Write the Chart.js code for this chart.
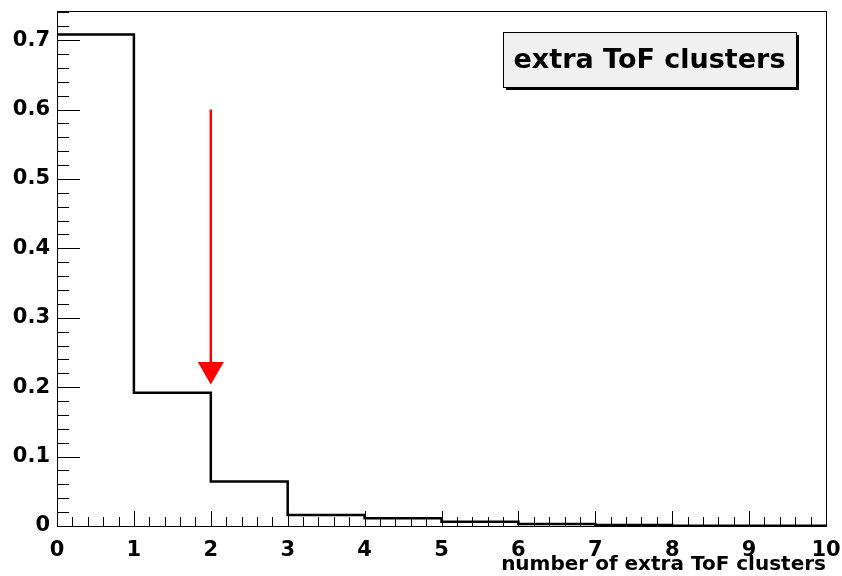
<!DOCTYPE html>
<html>
<head>
<meta charset="utf-8">
<script src="https://cdn.jsdelivr.net/npm/chart.js@4/dist/chart.umd.min.js"></script>
<style>
html,body{margin:0;padding:0;background:#fff;}
#wrap{width:842px;height:576px;position:relative;}
</style>
</head>
<body>
<div id="wrap"><canvas id="c" width="842" height="576"></canvas></div>
<script>
// ---- data ----
const binEdges = [0,1,2,3,4,5,6,7,8,9,10];
const binValues = [0.708, 0.192, 0.064, 0.016, 0.011, 0.006, 0.003, 0.0015, 0.0004, 0.0002];
const xTickLabels = ['0','1','2','3','4','5','6','7','8','9','10'];
const yTickLabels = ['0','0.1','0.2','0.3','0.4','0.5','0.6','0.7'];
const legendText = 'extra ToF clusters';
const xAxisTitle = 'number of extra ToF clusters';
const cutArrow = {x: 2, yFrom: 0.6, yTo: 0.204};
const yMax = 0.742;

// histogram: one point at each bin's left edge, plus closing point at right edge
const points = binValues.map((v,i)=>({x: binEdges[i], y: v}));
points.push({x: binEdges[binEdges.length-1], y: binValues[binValues.length-1]});

const FONT = "'DejaVu Sans', sans-serif";

const decor = {
  id: 'decor',
  afterDatasetsDraw(chart){
    const ctx = chart.ctx, a = chart.chartArea;
    const xs = chart.scales.x, ys = chart.scales.y;
    ctx.save();
    // frame
    ctx.strokeStyle = '#000'; ctx.lineWidth = 1;
    ctx.strokeRect(Math.round(a.left)+0.5, Math.round(a.top)+0.5, Math.round(a.right-a.left), Math.round(a.bottom-a.top));
    // y ticks
    ctx.beginPath();
    for (let k=0;k<=Math.floor(yMax/0.02+1e-6);k++){
      const v = k*0.02;
      const major = (k%5===0);
      const py = Math.round(ys.getPixelForValue(v))+0.5;
      ctx.moveTo(a.left, py); ctx.lineTo(a.left + (major?23:12), py);
    }
    // x ticks
    for (let k=0;k<=50;k++){
      const v = k*0.2;
      const major = (k%5===0);
      const px = Math.round(xs.getPixelForValue(v))+0.5;
      ctx.moveTo(px, a.bottom); ctx.lineTo(px, a.bottom - (major?15:9));
    }
    ctx.stroke();
    // arrow
    const ax = xs.getPixelForValue(cutArrow.x);
    const y0 = ys.getPixelForValue(cutArrow.yFrom);
    const y1 = ys.getPixelForValue(cutArrow.yTo);
    ctx.strokeStyle = '#ff0000'; ctx.fillStyle = '#ff0000'; ctx.lineWidth = 2.5;
    ctx.beginPath(); ctx.moveTo(ax, y0); ctx.lineTo(ax, y1-20); ctx.stroke();
    ctx.beginPath(); ctx.moveTo(ax-13, y1-22.5); ctx.lineTo(ax+13, y1-22.5); ctx.lineTo(ax, y1); ctx.closePath(); ctx.fill();
    // legend box
    const bx=503, by=32, bw=293, bh=55;
    ctx.fillStyle='#000'; ctx.fillRect(bx+3, by+3, bw, bh);
    ctx.fillStyle='#f0f0f0'; ctx.fillRect(bx, by, bw, bh);
    ctx.strokeStyle='#000'; ctx.lineWidth=1; ctx.strokeRect(bx+0.5, by+0.5, bw, bh);
    ctx.fillStyle='#000'; ctx.font = "bold 27px " + FONT; ctx.textAlign='center'; ctx.textBaseline='middle';
    ctx.fillText(legendText, bx+bw/2, by+bh/2+1);
    // x axis title
    ctx.font = "bold 20px " + FONT; ctx.textAlign='right'; ctx.textBaseline='alphabetic';
    ctx.fillText(xAxisTitle, a.right, 570);
    ctx.restore();
  }
};

new Chart(document.getElementById('c'), {
  type: 'line',
  data: {
    datasets: [{
      data: points,
      stepped: 'before',
      borderColor: '#000',
      borderWidth: 2.5,
      pointRadius: 0,
      fill: false
    }]
  },
  options: {
    responsive: false,
    animation: false,
    layout: {padding: {top: 11, right: 16, left: 0, bottom: 0}},
    plugins: {legend: {display: false}, tooltip: {enabled: false}},
    scales: {
      x: {
        type: 'linear', min: 0, max: 10,
        grid: {display: false, drawTicks: false},
        border: {display: false},
        afterFit(s){ s.height = 50; s.paddingLeft = 0; s.paddingRight = 0; },
        afterBuildTicks(s){ s.ticks = xTickLabels.map(t=>({value: Number(t)})); },
        ticks: {
          autoSkip: false, maxRotation: 0, padding: 12,
          color: '#000', font: {family: FONT, size: 21, weight: 'bold'},
          callback: (v)=> xTickLabels[xTickLabels.indexOf(String(v))]
        }
      },
      y: {
        type: 'linear', min: 0, max: yMax,
        grid: {display: false, drawTicks: false},
        border: {display: false},
        afterFit(s){ s.width = 57; s.paddingTop = 0; s.paddingBottom = 0; },
        afterBuildTicks(s){ s.ticks = yTickLabels.map(t=>({value: Number(t)})); },
        ticks: {
          padding: 7,
          color: '#000', font: {family: FONT, size: 21, weight: 'bold'},
          callback: (v)=> { const i = yTickLabels.findIndex(t=>Math.abs(Number(t)-v)<1e-9); return i>=0 ? yTickLabels[i] : ''; }
        }
      }
    }
  },
  plugins: [decor]
});
</script>
</body>
</html>
